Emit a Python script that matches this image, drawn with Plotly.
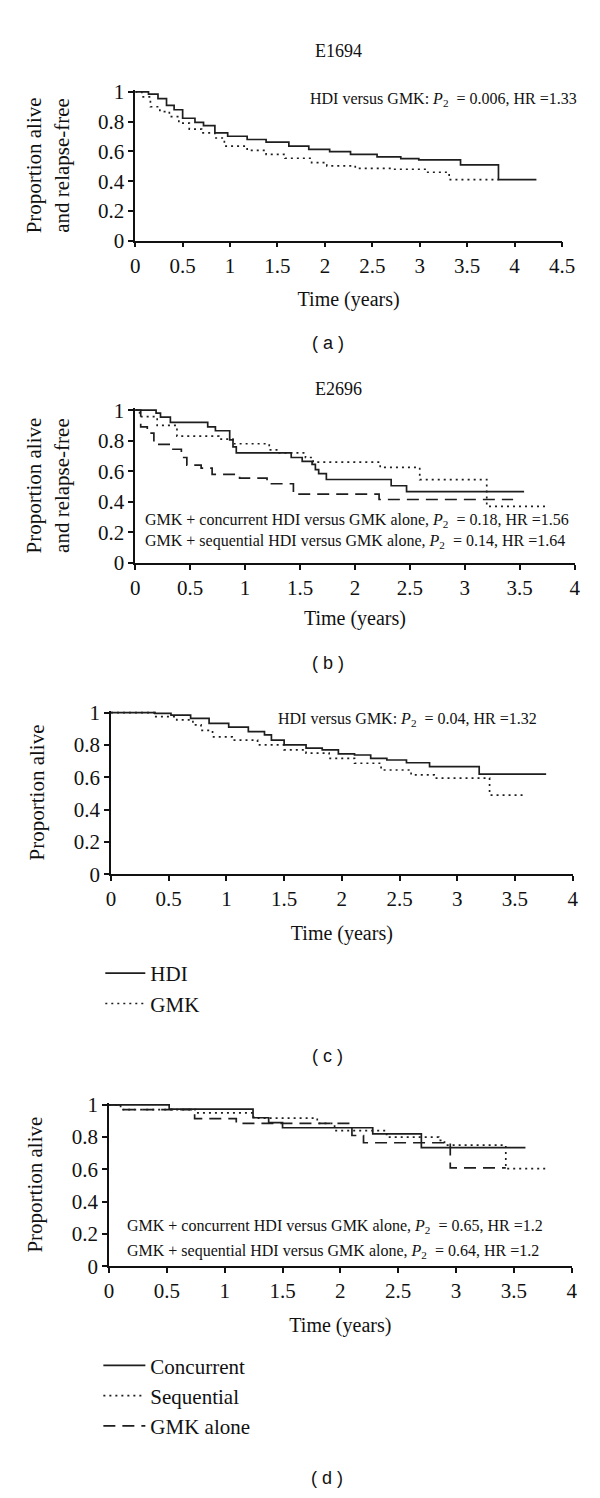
import plotly.graph_objects as go

W, H = 600, 1498

# ---------------- data ----------------
# Panel (a) E1694, relapse-free survival
a_hdi_t = [0, 0.02, 0.14, 0.24, 0.33, 0.41, 0.50, 0.63, 0.72, 0.84, 0.975, 1.18, 1.38, 1.62, 1.83, 2.05, 2.27, 2.55, 2.80, 2.99, 3.43, 3.83, 4.23]
a_hdi_s = [1.0, 1.0, 0.985, 0.955, 0.91, 0.88, 0.823, 0.795, 0.773, 0.724, 0.702, 0.68, 0.662, 0.636, 0.614, 0.598, 0.58, 0.563, 0.552, 0.543, 0.51, 0.41, 0.41]
a_gmk_t = [0, 0.07, 0.16, 0.26, 0.36, 0.46, 0.57, 0.70, 0.84, 0.94, 1.18, 1.38, 1.58, 1.86, 2.02, 2.32, 2.70, 3.07, 3.31, 3.83]
a_gmk_s = [1.0, 0.967, 0.90, 0.868, 0.834, 0.79, 0.75, 0.724, 0.69, 0.636, 0.607, 0.58, 0.554, 0.525, 0.503, 0.486, 0.48, 0.46, 0.41, 0.41]

# Panel (b) E2696, relapse-free survival
b_con_t = [0, 0.19, 0.23, 0.32, 0.66, 0.73, 0.86, 0.89, 0.92, 1.42, 1.52, 1.61, 1.64, 1.67, 1.74, 2.33, 2.47, 3.54]
b_con_s = [1.0, 0.98, 0.955, 0.92, 0.89, 0.865, 0.805, 0.76, 0.72, 0.69, 0.664, 0.645, 0.61, 0.585, 0.546, 0.505, 0.466, 0.466]
b_seq_t = [0, 0.04, 0.20, 0.38, 0.76, 0.89, 1.22, 1.30, 1.55, 1.62, 2.23, 2.59, 3.20, 3.74]
b_seq_s = [1.0, 0.957, 0.90, 0.83, 0.81, 0.78, 0.74, 0.72, 0.69, 0.66, 0.625, 0.545, 0.37, 0.37]
b_gmk_t = [0, 0.05, 0.11, 0.17, 0.33, 0.42, 0.47, 0.60, 0.70, 0.95, 1.20, 1.44, 2.22, 3.44]
b_gmk_s = [1.0, 0.89, 0.85, 0.776, 0.744, 0.69, 0.64, 0.62, 0.58, 0.555, 0.518, 0.45, 0.415, 0.415]

# Panel (c) E1694, overall survival
c_hdi_t = [0, 0.38, 0.52, 0.69, 0.85, 1.02, 1.19, 1.33, 1.39, 1.50, 1.69, 1.83, 1.97, 2.11, 2.25, 2.39, 2.56, 2.76, 3.19, 3.77]
c_hdi_s = [1.0, 0.995, 0.985, 0.965, 0.934, 0.91, 0.882, 0.862, 0.83, 0.80, 0.78, 0.77, 0.745, 0.738, 0.717, 0.707, 0.69, 0.666, 0.62, 0.62]
c_gmk_t = [0, 0.38, 0.57, 0.71, 0.78, 0.88, 1.05, 1.27, 1.50, 1.69, 1.89, 2.11, 2.34, 2.60, 2.80, 3.28, 3.58]
c_gmk_s = [1.0, 0.975, 0.955, 0.924, 0.89, 0.85, 0.83, 0.80, 0.77, 0.75, 0.717, 0.687, 0.645, 0.615, 0.595, 0.49, 0.49]

# Panel (d) E2696, overall survival
d_con_t = [0, 0.52, 1.245, 1.38, 1.50, 2.28, 2.70, 3.60]
d_con_s = [1.0, 0.973, 0.92, 0.89, 0.858, 0.82, 0.735, 0.735]
d_seq_t = [0, 0.10, 0.75, 1.25, 1.80, 1.95, 2.40, 2.85, 2.90, 3.43, 3.78]
d_seq_s = [1.0, 0.97, 0.95, 0.917, 0.885, 0.84, 0.80, 0.78, 0.75, 0.605, 0.60]
d_gmk_t = [0, 0.10, 0.74, 1.10, 2.10, 2.20, 2.95, 3.43]
d_gmk_s = [1.0, 0.97, 0.915, 0.885, 0.81, 0.765, 0.61, 0.61]

y_tickvals = [0, 0.2, 0.4, 0.6, 0.8, 1]
y_ticktext = ["0", "0.2", "0.4", "0.6", "0.8", "1"]
x_tickvals_45 = [0, 0.5, 1, 1.5, 2, 2.5, 3, 3.5, 4, 4.5]
x_ticktext_45 = ["0", "0.5", "1", "1.5", "2", "2.5", "3", "3.5", "4", "4.5"]
x_tickvals_4 = [0, 0.5, 1, 1.5, 2, 2.5, 3, 3.5, 4]
x_ticktext_4 = ["0", "0.5", "1", "1.5", "2", "2.5", "3", "3.5", "4"]

# ---------------- styling ----------------
SERIF = "Liberation Serif, Times New Roman, serif"
SANS = "Liberation Sans, Arial, sans-serif"
LC = "#1e1e1e"
LW = 1.7
SOLID = "solid"
DOT = "2px,4px"
DASH = "12px,7px"


def px_x(p):
    return p / W


def px_y(p):
    return 1 - p / H


fig = go.Figure()


def add_curve(t, s, ax, dash, name, legend=None):
    kw = dict(showlegend=False)
    if legend is not None:
        kw = dict(showlegend=True, legend=legend)
    fig.add_trace(go.Scatter(
        x=t, y=s, mode="lines", name=name,
        line=dict(color=LC, width=LW, dash=dash, shape="hv"),
        xaxis="x" + ax, yaxis="y" + ax, hoverinfo="skip", **kw))


add_curve(a_hdi_t, a_hdi_s, "", SOLID, "HDI")
add_curve(a_gmk_t, a_gmk_s, "", DOT, "GMK")
add_curve(b_con_t, b_con_s, "2", SOLID, "Concurrent")
add_curve(b_seq_t, b_seq_s, "2", DOT, "Sequential")
add_curve(b_gmk_t, b_gmk_s, "2", DASH, "GMK alone")
add_curve(c_hdi_t, c_hdi_s, "3", SOLID, "HDI", legend="legend")
add_curve(c_gmk_t, c_gmk_s, "3", DOT, "GMK", legend="legend")
add_curve(d_con_t, d_con_s, "4", SOLID, "Concurrent", legend="legend2")
add_curve(d_seq_t, d_seq_s, "4", DOT, "Sequential", legend="legend2")
add_curve(d_gmk_t, d_gmk_s, "4", DASH, "GMK alone", legend="legend2")

# panel geometry (pixels): x0, x_end, xmax, y_top(value 1), y_bottom(value 0), x-title standoff
panels = {
    "": (126, 566, 4.5, 75, 226, 15),
    "2": (126, 579, 4.0, 398, 553, 12),
    "3": (101, 577, 4.0, 705, 869, 16),
    "4": (99, 576, 4.0, 1103, 1267, 16),
}
ytitles = {
    "": "Proportion alive<br>and relapse-free",
    "2": "Proportion alive<br>and relapse-free",
    "3": "Proportion alive",
    "4": "Proportion alive",
}
YTOP = 1.012
for ax, (x0, x1, xmax, yt, yb, xstand) in panels.items():
    ppu = (yb - yt)
    ytop_px = yb - YTOP * ppu
    tv, tt = (x_tickvals_45, x_ticktext_45) if xmax > 4.2 else (x_tickvals_4, x_ticktext_4)
    xa = dict(domain=[px_x(x0), px_x(x1)], range=[0, xmax], anchor="y" + ax,
              showgrid=False, zeroline=False, showline=True, linecolor="#111", linewidth=1.6,
              ticks="outside", ticklen=5, tickwidth=1.5, tickcolor="#111",
              tickvals=tv, ticktext=tt, tickfont=dict(family=SERIF, size=21, color="#111"),
              title=dict(text="Time (years)", font=dict(family=SERIF, size=20, color="#111"), standoff=xstand),
              fixedrange=True)
    ya = dict(domain=[px_y(yb), px_y(ytop_px)], range=[0, YTOP], anchor="x" + ax,
              showgrid=False, zeroline=False, showline=True, linecolor="#111", linewidth=1.6,
              ticks="outside", ticklen=5, tickwidth=1.5, tickcolor="#111",
              tickvals=y_tickvals, ticktext=y_ticktext, tickfont=dict(family=SERIF, size=21, color="#111"),
              title=dict(text=ytitles[ax], font=dict(family=SERIF, size=21, color="#111"), standoff=23),
              fixedrange=True)
    fig.layout["xaxis" + ax] = xa
    fig.layout["yaxis" + ax] = ya

P2 = "<i>P</i><sub>2</sub>  = "
AF = 16
annos = [
    ("E1694", 336, 33, SERIF, 18, "center"),
    ("HDI versus GMK: " + P2 + "0.006, HR =1.33", 304, 83, SERIF, AF, "left"),
    ("( a )", 325, 330, SANS, 18, "center"),
    ("E2696", 336, 377, SERIF, 18, "center"),
    ("GMK + concurrent HDI versus GMK alone, " + P2 + "0.18, HR =1.56", 134, 510, SERIF, AF, "left"),
    ("GMK + sequential HDI versus GMK alone, " + P2 + "0.14, HR =1.64", 134, 531, SERIF, AF, "left"),
    ("( b )", 325, 655, SANS, 18, "center"),
    ("HDI versus GMK: " + P2 + "0.04, HR =1.32", 271, 712, SERIF, AF, "left"),
    ("( c )", 324, 1053, SANS, 18, "center"),
    ("GMK + concurrent HDI versus GMK alone, " + P2 + "0.65, HR =1.2", 115, 1227, SERIF, AF, "left"),
    ("GMK + sequential HDI versus GMK alone, " + P2 + "0.64, HR =1.2", 115, 1252, SERIF, AF, "left"),
    ("( d )", 324, 1482, SANS, 18, "center"),
]
fig.update_layout(annotations=[
    dict(text=t, x=px_x(x), y=px_y(y), xref="paper", yref="paper", showarrow=False,
         xanchor=xa_, yanchor="middle", align="left",
         font=dict(family=f, size=s, color="#111"))
    for (t, x, y, f, s, xa_) in annos
])

leg_common = dict(xanchor="left", yanchor="top", bgcolor="rgba(0,0,0,0)", borderwidth=0,
                  font=dict(family=SERIF, size=21, color="#111"),
                  tracegroupgap=0, orientation="v")
fig.update_layout(
    legend=dict(x=px_x(90), y=px_y(949), itemwidth=40, **leg_common),
    legend2=dict(x=px_x(88), y=px_y(1347), itemwidth=42, **leg_common),
)

fig.update_layout(width=W, height=H, margin=dict(l=0, r=0, t=0, b=0),
                  paper_bgcolor="white", plot_bgcolor="white",
                  font=dict(family=SERIF, size=16, color="#111"))

fig.write_html("out.html", config={"displayModeBar": False})
